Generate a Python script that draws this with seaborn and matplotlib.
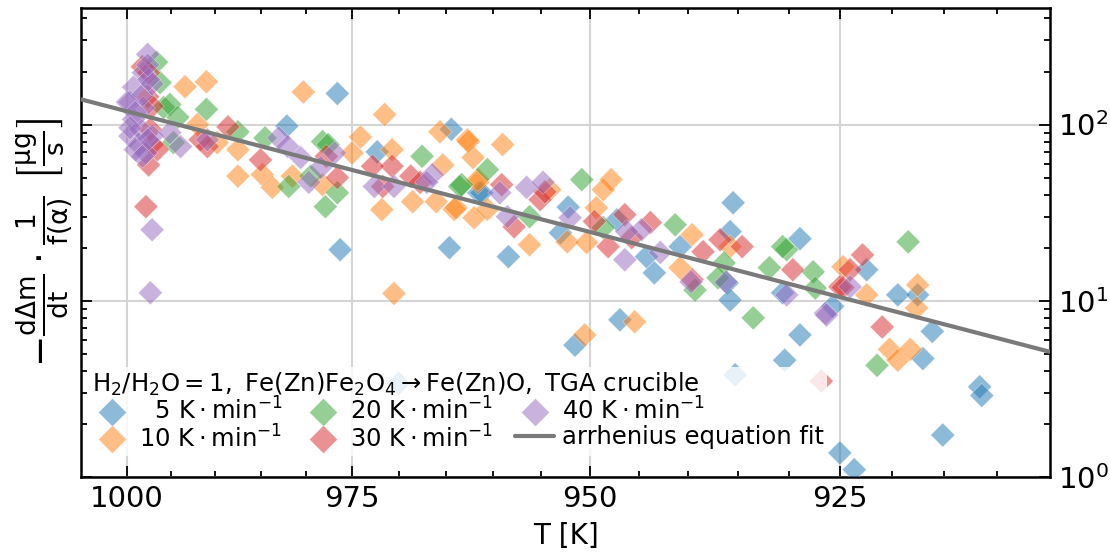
import numpy as np
import pandas as pd
import matplotlib
matplotlib.use("Agg")
import matplotlib.pyplot as plt
from matplotlib.ticker import FixedLocator, FixedFormatter, NullFormatter, LogLocator, LogFormatterSciNotation
from matplotlib.lines import Line2D
import seaborn as sns

# ---------------- data ----------------
T_5 = [976.6, 976.3, 982.1, 972.3, 964.4, 964.6, 961.5, 961.2, 958.4, 953.0, 952.2,
       946.9, 951.5, 947.2, 944.2, 943.4, 940.8, 935.5, 935.8, 936.1, 935.8, 928.9,
       930.6, 928.9, 925.7, 935.3, 930.4, 970.0, 922.4, 919.4, 917.5, 916.1, 917.0,
       911.6, 911.4, 915.1, 925.0, 923.6]
R_5 = [150, 19.5, 98, 70, 94, 20, 41, 41, 17.8, 24.3, 34,
       7.8, 5.6, 28.8, 17.8, 14.4, 20.3, 36, 24.7, 12.6, 10.1, 22.5,
       11.1, 6.4, 9.3, 3.8, 4.6, 3.4, 15.0, 10.8, 10.8, 6.7, 4.7,
       3.25, 2.9, 1.73, 1.37, 1.1]

T_10 = [993.4, 991.0, 980.3, 992.0, 989.8, 987.5, 987.5, 984.8, 983.7, 981.5, 978.2,
        974.1, 975.0, 971.5, 970.7, 971.8, 968.5, 965.6, 962.7, 965.3, 962.1, 966.0,
        964.1, 962.0, 961.6, 962.6, 959.0, 961.6, 963.9, 960.6, 956.2, 952.3, 950.3,
        949.3, 947.8, 948.6, 945.4, 950.5, 940.8, 939.6, 935.8, 924.7, 970.5, 922.4,
        917.5, 917.6, 920.2, 919.4, 918.2, 954.1]
R_10 = [164, 175, 153, 100, 79, 72, 51, 52, 44, 51, 45.6,
        85, 69, 114, 72, 32.9, 36.5, 91, 82, 59, 65, 36.5,
        33, 29.6, 47, 80, 77, 48.7, 33.7, 33, 20.8, 21.6, 21.4,
        33.7, 48.7, 42.7, 7.6, 6.4, 15.4, 23.7, 20.3, 15.6, 11.0, 10.8,
        12.3, 9.1, 5.3, 4.6, 5.3, 42.7]

T_20 = [996.6, 996.2, 995.8, 995.1, 994.2, 991.0, 994.7, 987.5, 984.5, 978.2, 977.6,
        981.9, 979.5, 976.6, 977.9, 967.5, 963.3, 963.5, 960.6, 950.8, 956.2, 941.3,
        948.6, 930.2, 930.6, 931.9, 927.6, 927.4, 936.4, 939.3, 933.5, 937.0, 918.4,
        921.4]
R_20 = [226, 173, 125, 130, 110, 122, 79, 91, 84, 80, 77,
        44.5, 51, 41, 34.2, 66, 45.6, 44.5, 55.5, 48.7, 30, 27,
        26, 19.5, 20.3, 15.4, 14.6, 11.8, 16.4, 11.5, 8.0, 13.5, 21.6,
        4.3]

T_30 = [998.2, 997.6, 997.3, 997.1, 997.5, 997.8, 988.6, 991.7, 990.9, 985.0, 976.6,
        970.7, 971.7, 968.7, 967.7, 972.8, 977.8, 959.1, 957.8, 955.1, 954.6, 949.5,
        948.1, 946.4, 943.8, 945.7, 938.5, 936.8, 934.6, 929.6, 939.6, 925.0, 922.8,
        924.0, 924.7, 920.9, 926.8, 997.5, 997.1, 996.5]
R_30 = [213, 144, 94, 77, 59, 34.2, 97, 82, 75, 63, 50,
        58, 44.5, 51, 47, 58, 66, 45.6, 26.3, 37.5, 41.5, 28.2,
        20.3, 30.8, 27.8, 22.8, 19, 22.2, 20.3, 15, 13.2, 12, 18.2,
        15, 11.9, 7.1, 3.5, 197, 127, 72]

T_40 = [997.6, 998.1, 999.2, 999.6, 998.1, 999.2, 999.6, 998.6, 997.8, 998.4, 997.1,
        997.1, 993.9, 995.1, 998.2, 997.1, 997.3, 990.9, 983.0, 982.0, 980.6, 978.4,
        979.7, 976.9, 972.6, 970.5, 966.4, 967.0, 959.3, 958.5, 956.5, 952.0, 954.8,
        946.4, 942.8, 944.7, 939.7, 936.2, 930.2, 926.4, 946.2, 924.0, 926.3,
        999.9, 999.0, 999.6, 997.6, 999.0, 998.2, 997.5, 997.6]
R_40 = [250, 197, 163, 134, 124, 107, 86, 77, 69, 94, 86,
        25.3, 75, 90, 147, 170, 11.1, 82, 84, 75, 65, 57,
        47, 69, 44.5, 44.5, 52, 47, 41, 30, 44, 29.6, 47,
        17.1, 18.8, 25.3, 12.8, 12.8, 10.8, 8.5, 24.7, 12, 8.3,
        134, 117, 96, 82, 72, 66, 180, 218]

series_labels = [r"$\ \ 5\ \mathrm{K \cdot min^{-1}}$",
                 r"$10\ \mathrm{K \cdot min^{-1}}$",
                 r"$20\ \mathrm{K \cdot min^{-1}}$",
                 r"$30\ \mathrm{K \cdot min^{-1}}$",
                 r"$40\ \mathrm{K \cdot min^{-1}}$"]

# Arrhenius fit line end points (straight line in log(rate) vs 1/T)
fit_T = [1005.2, 905.0]
fit_R = [139.0, 5.13]

x_major = [1000, 975, 950, 925]
x_minor = [995, 990, 985, 980, 970, 965, 960, 955, 945, 940, 935, 930, 920, 915, 910]

# ---------------- build frame ----------------
frames = []
for lab, T, R in zip(series_labels, [T_5, T_10, T_20, T_30, T_40],
                     [R_5, R_10, R_20, R_30, R_40]):
    frames.append(pd.DataFrame({"T": T, "rate": R, "series": lab}))
df = pd.concat(frames, ignore_index=True)
fit_df = pd.DataFrame({"T": fit_T, "rate": fit_R})

# ---------------- style ----------------
sns.set_style("ticks")
plt.rcParams["font.family"] = ["DejaVu Sans"]
plt.rcParams["mathtext.fontset"] = "dejavusans"
plt.rcParams["text.color"] = "black"
plt.rcParams["axes.labelcolor"] = "black"
plt.rcParams["xtick.color"] = "black"
plt.rcParams["ytick.color"] = "black"

palette = sns.color_palette("tab10", 5)

fig = plt.figure(figsize=(11.1, 5.54), dpi=100)
ax = fig.add_axes([0.073, 0.139, 0.873, 0.847])

sns.scatterplot(data=df, x="T", y="rate", hue="series", palette=palette,
                marker="D", s=150, alpha=0.5, edgecolor="white", linewidth=0.4,
                ax=ax, legend=False, zorder=3)
sns.lineplot(data=fit_df, x="T", y="rate", color="#7a7a7a", linewidth=3,
             ax=ax, legend=False, zorder=4)

def fwd(x):
    x = np.asarray(x, dtype=float)
    with np.errstate(divide="ignore", invalid="ignore"):
        return 1000.0 / x

ax.set_xscale("function", functions=(fwd, fwd))
ax.set_yscale("log")
ax.set_xlim(905.0, 1005.2)
ax.set_ylim(1, 460)

ax.xaxis.set_major_locator(FixedLocator(x_major))
ax.xaxis.set_minor_locator(FixedLocator(x_minor))
ax.xaxis.set_major_formatter(FixedFormatter([str(v) for v in x_major]))
ax.xaxis.set_minor_formatter(NullFormatter())
ax.yaxis.set_major_locator(LogLocator(base=10, numticks=10))
ax.yaxis.set_minor_locator(LogLocator(base=10, subs=np.arange(2, 10), numticks=20))
ax.yaxis.set_major_formatter(LogFormatterSciNotation())
ax.yaxis.set_minor_formatter(NullFormatter())

ax.grid(True, which="major", color="#d4d4d4", linewidth=1.5, zorder=0)
ax.set_axisbelow(True)

ax.tick_params(which="both", direction="in", top=True, bottom=True, left=True,
               right=True, labelleft=False, labelright=True, width=1.3,
               colors="black")
ax.tick_params(which="major", length=8, labelsize=21, pad=6)
ax.tick_params(which="minor", length=4)
for sp in ax.spines.values():
    sp.set_linewidth(1.8)
    sp.set_color("black")

ax.set_xlabel("T [K]", fontsize=20, labelpad=6)
ax.set_ylabel(r"$-\frac{\mathrm{d}\Delta\mathrm{m}}{\mathrm{dt}}\cdot\frac{1}{\mathrm{f(\alpha)}}\ \left[\frac{\mathrm{\mu g}}{\mathrm{s}}\right]$",
              fontsize=27, labelpad=4)
ax.yaxis.set_label_position("left")

handles = []
for lab, c in zip(series_labels, palette):
    handles.append(Line2D([], [], marker="D", linestyle="none", markersize=14,
                          markerfacecolor=c, markeredgecolor="white",
                          markeredgewidth=0.4, alpha=0.5, label=lab))
handles.append(Line2D([], [], color="#7a7a7a", linewidth=3,
                      label="arrhenius equation fit"))

title = r"$\mathrm{H_2/H_2O=1,\ Fe(Zn)Fe_2O_4 \rightarrow Fe(Zn)O,\ TGA\ crucible}$"
leg = ax.legend(handles=handles, ncol=3, loc="lower left",
                bbox_to_anchor=(0.008, 0.045), fontsize=17.5,
                title=title, title_fontsize=17.5, frameon=True, framealpha=0.8,
                edgecolor="none", facecolor="white", borderaxespad=0.0,
                handletextpad=0.3, columnspacing=0.9, labelspacing=0.0,
                handlelength=1.6, borderpad=0.15, alignment="left")
leg.set_zorder(5)

fig.savefig("out.png", dpi=100)
